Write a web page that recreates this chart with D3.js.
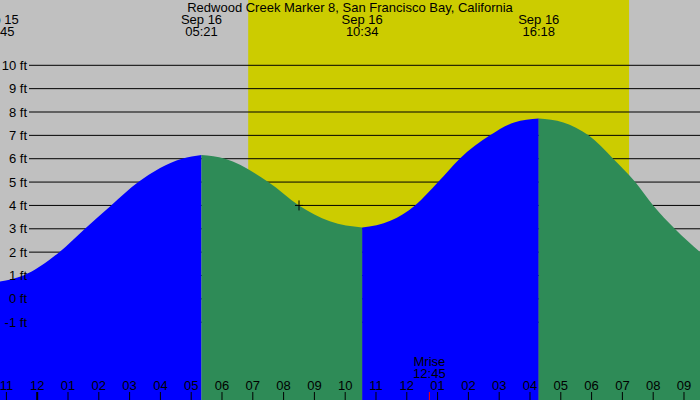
<!DOCTYPE html>
<html>
<head>
<meta charset="utf-8">
<script src="https://cdn.jsdelivr.net/npm/d3@7"></script>
<style>
  body { margin: 0; background: #c0c0c0; }
  svg { display: block; }
  text { font-family: "Liberation Sans", Arial, sans-serif; font-size: 13px; fill: #000; }
</style>
</head>
<body>
<div id="chart"></div>
<script>
// Tide chart: Redwood Creek Marker 8, heights (ft)
var title = "Redwood Creek Marker 8, San Francisco Bay, California";

// visible time window
var viewStart = "2023-09-15 22:48:30";
var viewEnd = "2023-09-16 21:32:10";

// sampled tide curve
var tideTimes = [
    "2023-09-15 22:45", "2023-09-15 23:34", "2023-09-16 00:44", "2023-09-16 01:34",
    "2023-09-16 02:25", "2023-09-16 03:18", "2023-09-16 04:43", "2023-09-16 05:21",
    "2023-09-16 06:07", "2023-09-16 07:31", "2023-09-16 08:31", "2023-09-16 09:31",
    "2023-09-16 10:34", "2023-09-16 11:30", "2023-09-16 12:17", "2023-09-16 13:02",
    "2023-09-16 13:44", "2023-09-16 14:43", "2023-09-16 15:30", "2023-09-16 16:18",
    "2023-09-16 17:06", "2023-09-16 17:55", "2023-09-16 18:43", "2023-09-16 19:26",
    "2023-09-16 20:01", "2023-09-16 20:43", "2023-09-16 21:35"
];
var tideFeet = [
    0.73, 1.0, 2.0, 3.0,
    4.0, 5.0, 6.0, 6.16,
    6.0, 5.0, 4.0, 3.32,
    3.05, 3.35, 4.0, 5.0,
    6.0, 7.0, 7.55, 7.72,
    7.55, 7.0, 6.0, 5.0,
    4.0, 3.0, 1.95
];

// highs and lows (labelled at the top)
var extremeTimes = ["2023-09-15 22:45", "2023-09-16 05:21", "2023-09-16 10:34", "2023-09-16 16:18"];

var sunrise = "2023-09-16 06:52";
var sunset = "2023-09-16 19:14";
var moonrise = "2023-09-16 12:45";

// "now" marker
var nowTime = "2023-09-16 08:31";
var nowFeet = 4.0;

var feetTicks = [-1, 0, 1, 2, 3, 4, 5, 6, 7, 8, 9, 10];

var width = 700;
var height = 400;

var parse = d3.timeParse("%Y-%m-%d %H:%M");
var parseSec = d3.timeParse("%Y-%m-%d %H:%M:%S");

var x = d3.scaleTime()
    .domain([parseSec(viewStart), parseSec(viewEnd)])
    .range([0, width]);

var y = d3.scaleLinear()
    .domain([-1, 10])
    .range([322.2, 65.3]);

var svg = d3.select("#chart").append("svg")
    .attr("width", width)
    .attr("height", height);

svg.append("rect")
    .attr("width", width).attr("height", height)
    .attr("fill", "#c0c0c0");

// daylight
svg.append("rect")
    .attr("x", x(parse(sunrise)))
    .attr("y", 0)
    .attr("width", x(parse(sunset)) - x(parse(sunrise)))
    .attr("height", height)
    .attr("fill", "#cccc00");

// grid lines
svg.selectAll(".grid")
    .data(feetTicks)
  .enter().append("line")
    .attr("class", "grid")
    .attr("x1", 29).attr("x2", width)
    .attr("y1", function(d) { return y(d); })
    .attr("y2", function(d) { return y(d); })
    .attr("stroke", "#000")
    .attr("stroke-width", 1);

var points = tideTimes.map(function(t, i) {
    return { t: parse(t), v: tideFeet[i] };
});

// split into rising / falling pieces at each extreme
var cuts = extremeTimes.map(parse);
var segments = [];
var bounds = [points[0].t].concat(cuts.slice(1), [points[points.length - 1].t]);
for (var i = 0; i < bounds.length - 1; i++) {
    var seg = points.filter(function(p) { return p.t >= bounds[i] && p.t <= bounds[i + 1]; });
    segments.push(seg);
}

var area = d3.area()
    .x(function(d) { return x(d.t); })
    .y0(height)
    .y1(function(d) { return y(d.v); })
    .curve(d3.curveMonotoneX);

svg.selectAll(".tide")
    .data(segments)
  .enter().append("path")
    .attr("class", "tide")
    .attr("d", area)
    .attr("fill", function(d) {
        return d[d.length - 1].v > d[0].v ? "#0000ff" : "#2e8b57";
    });

// ft labels (on top of water)
svg.selectAll(".ylab")
    .data(feetTicks)
  .enter().append("text")
    .attr("class", "ylab")
    .attr("x", 27)
    .attr("y", function(d) { return y(d); })
    .attr("dy", "0.35em")
    .attr("text-anchor", "end")
    .text(function(d) { return d + " ft"; });

// hour axis
var xAxis = d3.axisTop(x)
    .ticks(d3.timeHour.every(1))
    .tickSize(8)
    .tickPadding(2)
    .tickFormat(d3.timeFormat("%I"));

var gx = svg.append("g")
    .attr("transform", "translate(0," + height + ")")
    .call(xAxis);
gx.select(".domain").remove();
gx.selectAll("line")
    .attr("stroke", "#000")
    .attr("stroke-width", function(d) { return d.getHours() === 0 ? 2 : 1; });
gx.selectAll("text")
    .attr("font-family", "Liberation Sans, Arial, sans-serif")
    .attr("font-size", 13)
    .attr("fill", "#000");

// title
svg.append("text")
    .attr("x", 350)
    .attr("y", 7)
    .attr("dy", "0.35em")
    .attr("text-anchor", "middle")
    .text(title);

// extreme labels
var ext = svg.selectAll(".ext")
    .data(cuts)
  .enter().append("g")
    .attr("class", "ext")
    .attr("transform", function(d) { return "translate(" + x(d) + ",0)"; });
ext.append("text")
    .attr("y", 19.3).attr("dy", "0.35em")
    .attr("text-anchor", "middle")
    .text(d3.timeFormat("%b %d"));
ext.append("text")
    .attr("y", 31.7).attr("dy", "0.35em")
    .attr("text-anchor", "middle")
    .text(d3.timeFormat("%H:%M"));

// moonrise
var mx = x(parse(moonrise));
svg.append("line")
    .attr("x1", mx).attr("x2", mx)
    .attr("y1", height - 8).attr("y2", height)
    .attr("stroke", "#ff0000");
svg.append("text")
    .attr("x", mx).attr("y", 361.7).attr("dy", "0.35em")
    .attr("text-anchor", "middle")
    .text("Mrise");
svg.append("text")
    .attr("x", mx).attr("y", 373.3).attr("dy", "0.35em")
    .attr("text-anchor", "middle")
    .text(d3.timeFormat("%H:%M")(parse(moonrise)));

// current time cross
var nx = x(parse(nowTime));
var ny = y(nowFeet);
svg.append("path")
    .attr("d", "M" + (nx - 4) + "," + ny + "H" + (nx + 4) + "M" + nx + "," + (ny - 5) + "V" + (ny + 5))
    .attr("stroke", "#000")
    .attr("stroke-width", 1);
</script>
</body>
</html>
